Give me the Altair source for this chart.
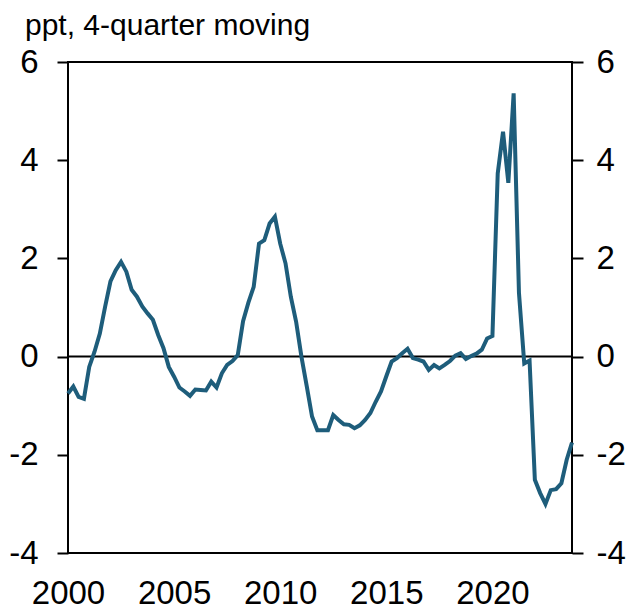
import altair as alt
import pandas as pd

# ---- data (quarterly, 2000Q1 .. 2023Q4) ----
start_year = 2000
values_2000s = [-0.75, -0.61, -0.82, -0.86, -0.21, 0.10, 0.47, 1.02, 1.53, 1.76,
                1.93, 1.73, 1.36, 1.22, 1.02, 0.88, 0.75, 0.44, 0.17, -0.21,
                -0.41, -0.63, -0.71, -0.80, -0.67, -0.68, -0.69, -0.51, -0.63, -0.34,
                -0.17, -0.09, 0.03, 0.72, 1.10, 1.42, 2.30, 2.37, 2.71, 2.85]
values_2010s = [2.30, 1.90, 1.22, 0.71, 0.00, -0.60, -1.22, -1.50, -1.50, -1.50,
                -1.19, -1.29, -1.38, -1.39, -1.46, -1.40, -1.29, -1.15, -0.92, -0.71,
                -0.40, -0.10, -0.03, 0.07, 0.16, -0.03, -0.06, -0.10, -0.27, -0.17,
                -0.24, -0.17, -0.09, 0.02, 0.07, -0.05, 0.01, 0.06, 0.14, 0.37]
values_2020s = [0.42, 3.73, 4.58, 3.54, 5.36, 1.30, -0.14, -0.08, -2.51, -2.78,
                -3.00, -2.72, -2.70, -2.58, -2.10, -1.75]
values = values_2000s + values_2010s + values_2020s

x_ticks = [2000, 2005, 2010, 2015, 2020]
y_ticks = [-4, -2, 0, 2, 4, 6]
zero_line = [0]
title_text = "ppt, 4-quarter moving"

df = pd.DataFrame({"t": [start_year + i / 4 for i in range(len(values))], "v": values})

AX_FONT = "Liberation Sans, Arial, sans-serif"
TXT_FONT = "Liberation Sans, Arial, sans-serif"
LINE_COLOR = "#1E5D7B"
FS = 33

x_enc = alt.X(
    "t:Q",
    scale=alt.Scale(domain=[2000, 2023.75], nice=False, zero=False),
    axis=alt.Axis(values=x_ticks, labelExpr="'' + datum.value", ticks=False, domain=False,
                  grid=False, labelFont=AX_FONT, labelFontSize=33, labelColor="black",
                  labelPadding=24, labelFlush=False, labelOverlap=False, title=None),
)

y_scale = alt.Scale(domain=[-4, 6], nice=False, zero=False)


def y_axis(orient, pad):
    return alt.Axis(orient=orient, values=y_ticks, labelExpr="'' + datum.value",
                    grid=False, domain=False,
                    ticks=True, tickSize=11, tickWidth=2, tickColor="black",
                    labelFont=AX_FONT, labelFontSize=FS, labelColor="black",
                    labelPadding=pad, title=None)


zero_rule = alt.Chart(pd.DataFrame({"z": zero_line})).mark_rule(
    color="black", strokeWidth=2
).encode(y=alt.Y("z:Q", scale=y_scale, axis=y_axis("right", 13)))

line = alt.Chart(df).mark_line(color=LINE_COLOR, strokeWidth=4).encode(
    x=x_enc,
    y=alt.Y("v:Q", scale=y_scale, axis=y_axis("left", 19)),
)

title = alt.Chart(pd.DataFrame({"txt": [title_text]})).mark_text(
    align="left", baseline="alphabetic", font=TXT_FONT, fontSize=30, color="black"
).encode(x=alt.value(-43), y=alt.value(-27), text="txt:N")

chart = (
    alt.layer(zero_rule, line, title)
    .resolve_scale(y="independent")
    .properties(
        width=504,
        height=491,
        autosize=alt.AutoSizeParams(type="none"),
        padding={"left": 60, "top": 54, "right": 54, "bottom": 57},
        background="white",
    )
    .configure_view(stroke="black", strokeWidth=2)
)

chart.save("out.html", embed_options={"renderer": "svg", "actions": False})
